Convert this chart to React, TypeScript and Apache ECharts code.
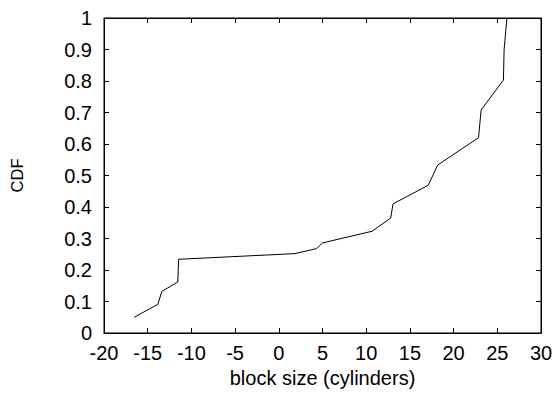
import React, { useEffect, useRef } from "react";
import * as echarts from "echarts";

const blockSize = [-16.54, -13.84, -13.38, -11.55, -11.47, 1.84, 4.32, 5.0, 10.67, 12.8, 13.07, 17.1, 18.17, 22.85, 23.15, 25.7, 25.78, 26.1];
const cdf = [0.05, 0.091, 0.132, 0.162, 0.234, 0.252, 0.268, 0.286, 0.323, 0.365, 0.41, 0.469, 0.533, 0.62, 0.708, 0.803, 0.9, 1.0];

const FONT = "Liberation Sans";

export default function App() {
  const ref = useRef<HTMLDivElement>(null);
  useEffect(() => {
    if (!ref.current) return;
    const chart = echarts.init(ref.current, null, { renderer: "svg" });
    const data = blockSize.map((x, i) => [x, cdf[i]]);
    const tickCommon = { show: true, inside: true, length: 5, lineStyle: { color: "#000", width: 1 } };
    const lineCommon = { show: true, onZero: false, lineStyle: { color: "#000", width: 1 } };
    chart.setOption({
      animation: false,
      backgroundColor: "#fff",
      grid: { left: 103, right: 17, top: 18, bottom: 63, show: true, borderColor: "#000", borderWidth: 1, backgroundColor: "transparent" },
      xAxis: [
        {
          type: "value", min: -20, max: 30, interval: 5, position: "bottom",
          name: "block size (cylinders)", nameLocation: "middle", nameGap: 34,
          nameTextStyle: { color: "#000", fontSize: 20, fontFamily: FONT },
          axisLine: lineCommon,
          axisTick: tickCommon,
          axisLabel: { color: "#000", fontSize: 20, fontFamily: FONT, margin: 10 },
          splitLine: { show: false },
        },
        {
          type: "value", min: -20, max: 30, interval: 5, position: "top",
          axisLine: lineCommon,
          axisTick: tickCommon,
          axisLabel: { show: false },
          splitLine: { show: false },
        },
      ],
      yAxis: [
        {
          type: "value", min: 0, max: 1, interval: 0.1, position: "left",
          name: "CDF", nameLocation: "middle", nameGap: 79, nameRotate: 90,
          nameTextStyle: { color: "#000", fontSize: 16.5, fontFamily: FONT },
          axisLine: lineCommon,
          axisTick: tickCommon,
          axisLabel: { color: "#000", fontSize: 20, fontFamily: FONT, margin: 12 },
          splitLine: { show: false },
        },
        {
          type: "value", min: 0, max: 1, interval: 0.1, position: "right",
          axisLine: lineCommon,
          axisTick: tickCommon,
          axisLabel: { show: false },
          splitLine: { show: false },
        },
      ],
      series: [
        {
          type: "line", data, xAxisIndex: 0, yAxisIndex: 0,
          showSymbol: false, symbol: "none",
          lineStyle: { color: "#000", width: 1 },
        },
      ],
    });
    return () => chart.dispose();
  }, []);
  return <div ref={ref} style={{ width: 558, height: 396, position: "absolute", left: 0, top: 0 }} />;
}
